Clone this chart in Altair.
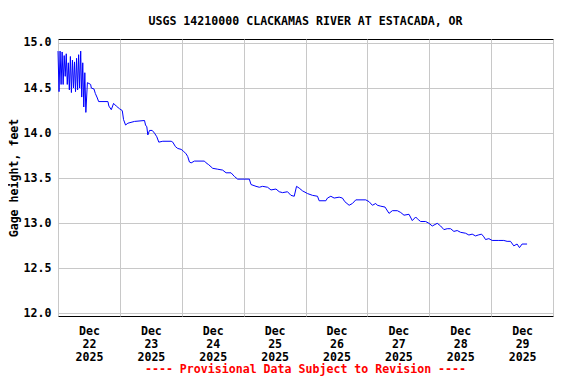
import altair as alt
import pandas as pd

# hours after 2025-12-22 00:00 and gage height (feet)
hours = [
    0.0, 0.4, 0.8, 1.2, 1.6, 2.0, 2.4, 2.8, 3.2, 3.6, 4.0, 4.4, 4.8, 5.2,
    5.6, 6.0, 6.4, 6.8, 7.2, 7.6, 8.0, 8.4, 8.8, 9.2, 9.6, 10.0, 10.4, 10.8,
    11.4, 12.66, 12.93, 13.94, 14.48, 15.25, 15.76, 19.36, 19.74, 20.67, 21.56,
    22.61, 23.88, 24.93, 25.43, 26.21, 27.10, 29.69, 33.56, 33.95, 34.45, 34.84,
    35.50, 36.54, 37.43, 38.32, 39.10, 40.65, 43.90, 44.52, 45.56, 46.45, 47.77,
    48.66, 49.70, 50.32, 50.98, 51.64, 52.92, 56.79, 57.45, 58.45, 60.00, 61.94,
    63.87, 65.19, 67.12, 68.40, 69.68, 74.21, 74.87, 76.80, 78.08, 79.36, 81.29,
    82.61, 84.54, 85.82, 87.10, 89.03, 90.35, 91.63, 92.52, 93.56, 94.84, 96.78,
    98.71, 100.65, 101.30, 103.90, 104.52, 105.83, 107.11, 109.05, 110.32,
    111.25, 112.92, 114.20, 115.51, 119.38, 120.66, 121.94, 123.25, 123.87,
    125.19, 126.85, 128.40, 129.68, 131.62, 132.93, 134.21, 136.15, 137.42,
    138.74, 139.75, 140.67, 142.61, 143.89, 145.17, 147.10, 148.42, 149.69,
    150.97, 152.29, 153.56, 154.84, 156.16, 158.09, 159.37, 160.65, 161.96,
    162.97, 164.29, 165.18, 165.84, 167.12, 168.39, 170.99, 172.92, 174.20,
    175.51, 176.79, 178.07, 179.00, 180.00, 181.94,
]
heights = [
    14.91, 14.46, 14.91, 14.54, 14.90, 14.54, 14.86, 14.63, 14.88, 14.54, 14.78,
    14.48, 14.85, 14.45, 14.81, 14.50, 14.79, 14.46, 14.83, 14.48, 14.87, 14.50,
    14.91, 14.40, 14.78, 14.29, 14.67, 14.23,
    14.56, 14.54, 14.50, 14.49, 14.44, 14.39, 14.35, 14.35, 14.30, 14.26, 14.33,
    14.30, 14.27, 14.25, 14.15, 14.09, 14.11, 14.13, 14.14, 14.09, 14.07, 13.98,
    14.03, 14.03, 14.00, 13.96, 13.90, 13.91, 13.91, 13.90, 13.85, 13.83, 13.82,
    13.80, 13.77, 13.74, 13.68, 13.67, 13.69, 13.69, 13.67, 13.65, 13.61, 13.60,
    13.59, 13.56, 13.56, 13.52, 13.49, 13.49, 13.43, 13.41, 13.40, 13.41, 13.40,
    13.37, 13.38, 13.35, 13.34, 13.35, 13.31, 13.30, 13.41, 13.39, 13.36, 13.33,
    13.31, 13.30, 13.25, 13.25, 13.28, 13.30, 13.28, 13.29, 13.28,
    13.24, 13.20, 13.22, 13.26, 13.26, 13.24, 13.20, 13.22, 13.20,
    13.19, 13.18, 13.11, 13.14, 13.14, 13.12, 13.09, 13.10, 13.03,
    13.07, 13.04, 13.02, 13.02, 13.00, 12.97, 13.00, 12.97, 12.93,
    12.94, 12.94, 12.91, 12.92, 12.90, 12.89, 12.87, 12.88, 12.86,
    12.87, 12.88, 12.85, 12.82, 12.83, 12.81, 12.81, 12.81, 12.80,
    12.80, 12.75, 12.77, 12.73, 12.77, 12.77,
]
day_ticks = [22, 23, 24, 25, 26, 27, 28, 29, 30]
y_ticks = [12.0, 12.5, 13.0, 13.5, 14.0, 14.5, 15.0]
title_text = "USGS 14210000 CLACKAMAS RIVER AT ESTACADA, OR"
footer_text = "---- Provisional Data Subject to Revision ----"
y_title = "Gage height, feet"

FONT = "DejaVu Sans Mono"
FS = 11.6

start = pd.Timestamp("2025-12-22 00:00:00")
df = pd.DataFrame({
    "time": [start + pd.Timedelta(hours=h) for h in hours],
    "height": heights,
})

x_axis = alt.Axis(
    values=[alt.DateTime(year=2025, month=12, date=d) for d in day_ticks],
    title=None,
    grid=True,
    gridColor="#c8c8c8",
    ticks=False,
    domain=False,
    labelOffset=31,
    labelPadding=9,
    labelOverlap=False,
    labelFlush=False,
    labelBound=False,
    labelLineHeight=13,
    labelBaseline="top",
    labelFont=FONT, labelFontSize=FS, labelFontWeight="bold", labelColor="black",
    labelExpr="datum.value >= datetime(2025, 11, 30) ? '' : "
              "[timeFormat(datum.value, '%b'), timeFormat(datum.value, '%d'), timeFormat(datum.value, '%Y')]",
)
y_axis = alt.Axis(
    values=y_ticks,
    format=".1f",
    title=y_title,
    grid=True,
    gridColor="#c8c8c8",
    ticks=False,
    domain=False,
    labelPadding=7,
    titlePadding=4,
    labelFont=FONT, labelFontSize=FS, labelFontWeight="bold", labelColor="black",
    titleFont=FONT, titleFontSize=FS, titleFontWeight="bold", titleColor="black",
)

line = alt.Chart(df).mark_line(color="#0000ff", strokeWidth=1, interpolate="linear").encode(
    x=alt.X("time:T", axis=x_axis,
            scale=alt.Scale(domain=[alt.DateTime(year=2025, month=12, date=22),
                                    alt.DateTime(year=2025, month=12, date=30)])),
    y=alt.Y("height:Q", axis=y_axis,
            scale=alt.Scale(domain=[11.972, 15.044], nice=False, zero=False)),
)

footer = alt.Chart(pd.DataFrame({"t": [footer_text]})).mark_text(
    color="#ff0000", font=FONT, fontSize=FS, fontWeight="bold",
    align="center", baseline="alphabetic",
).encode(x=alt.value(247.5), y=alt.value(334), text="t:N")

chart = alt.layer(line, footer).properties(
    width=495,
    height=277,
    title=alt.TitleParams(title_text, font=FONT, fontSize=FS, fontWeight="bold",
                          color="black", anchor="middle", offset=9),
    autosize=alt.AutoSizeParams(type="none"),
    padding={"left": 50, "top": 31, "right": 15, "bottom": 60},
).configure(
    background="white"
).configure_view(
    stroke="black", strokeWidth=1
)

chart.save("out.html", embed_options={"renderer": "svg", "actions": False})
